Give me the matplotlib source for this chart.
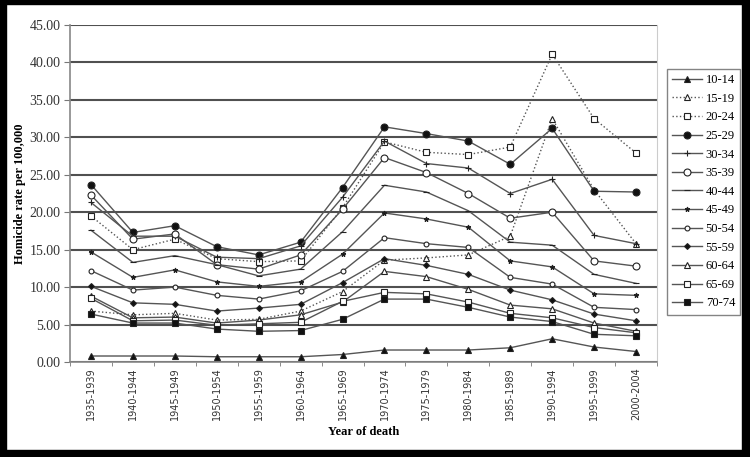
import numpy as np
import matplotlib
matplotlib.use('Agg')
import matplotlib.pyplot as plt
from matplotlib.patches import Rectangle

periods = ['1935-1939', '1940-1944', '1945-1949', '1950-1954', '1955-1959', '1960-1964', '1965-1969',
           '1970-1974', '1975-1979', '1980-1984', '1985-1989', '1990-1994', '1995-1999', '2000-2004']

r_10_14 = [0.8, 0.8, 0.8, 0.7, 0.7, 0.7, 1.0, 1.6, 1.6, 1.6, 1.9, 3.1, 2.0, 1.4]
r_15_19 = [6.8, 6.3, 6.5, 5.6, 5.7, 6.8, 9.4, 13.6, 13.9, 14.3, 16.8, 32.5, 23.0, 15.8]
r_20_24 = [19.5, 15.0, 16.4, 13.8, 13.4, 13.5, 20.6, 29.4, 28.0, 27.7, 28.7, 41.1, 32.5, 27.9]
r_25_29 = [23.7, 17.3, 18.2, 15.4, 14.3, 16.0, 23.3, 31.4, 30.5, 29.5, 26.4, 31.2, 22.8, 22.7]
r_30_34 = [21.3, 16.8, 16.8, 14.0, 13.8, 15.5, 22.0, 29.5, 26.5, 25.9, 22.5, 24.4, 16.9, 15.8]
r_35_39 = [22.3, 16.4, 17.1, 13.0, 12.4, 14.3, 20.4, 27.3, 25.3, 22.5, 19.2, 20.0, 13.5, 12.8]
r_40_44 = [17.6, 13.3, 14.2, 13.0, 11.5, 12.4, 17.4, 23.6, 22.7, 20.2, 16.0, 15.6, 11.7, 10.5]
r_45_49 = [14.7, 11.3, 12.3, 10.7, 10.1, 10.7, 14.4, 19.9, 19.1, 18.0, 13.5, 12.7, 9.1, 8.9]
r_50_54 = [12.2, 9.6, 10.0, 8.9, 8.4, 9.5, 12.1, 16.6, 15.8, 15.3, 11.3, 10.4, 7.3, 7.0]
r_55_59 = [10.1, 7.9, 7.7, 6.8, 7.2, 7.7, 10.6, 13.8, 12.9, 11.7, 9.6, 8.3, 6.4, 5.5]
r_60_64 = [8.8, 5.9, 6.0, 5.2, 5.6, 6.3, 8.0, 12.1, 11.4, 9.7, 7.6, 7.1, 5.2, 4.1]
r_65_69 = [8.5, 5.5, 5.6, 4.9, 5.1, 5.3, 8.1, 9.3, 9.1, 8.0, 6.5, 5.9, 4.6, 3.9]
r_70_74 = [6.4, 5.2, 5.2, 4.4, 4.1, 4.2, 5.7, 8.4, 8.4, 7.3, 6.0, 5.4, 3.7, 3.5]

labels = ['10-14', '15-19', '20-24', '25-29', '30-34', '35-39', '40-44',
          '45-49', '50-54', '55-59', '60-64', '65-69', '70-74']
series = [r_10_14, r_15_19, r_20_24, r_25_29, r_30_34, r_35_39, r_40_44,
          r_45_49, r_50_54, r_55_59, r_60_64, r_65_69, r_70_74]

# marker, size, filled, linestyle
styles = [('^', 4, True, '-'), ('^', 4.5, False, ':'), ('s', 4, False, ':'), ('o', 5, True, '-'),
          ('+', 4, True, '-'), ('o', 5, False, '-'), ('_', 4, True, '-'), ('*', 3.5, True, '-'),
          ('o', 3.5, False, '-'), ('D', 3, True, '-'), ('^', 4.5, False, '-'), ('s', 4, False, '-'),
          ('s', 4, True, '-')]

plt.rcParams['font.family'] = 'Liberation Serif'

fig = plt.figure(figsize=(7.5, 4.57), dpi=100)
ax = fig.add_axes([70/750, 95/457, 587/750, 337/457])

x = np.arange(len(periods))
for vals, lab, (mk, ms, filled, ls) in zip(series, labels, styles):
    ax.plot(x, vals, color='#555555', lw=1.0, ls=ls, marker=mk, markersize=ms,
            markerfacecolor='#111111' if filled else 'white',
            markeredgecolor='#222222', markeredgewidth=0.8, label=lab, zorder=3)

ax.set_xlim(-0.5, len(periods) - 0.5)
ax.set_ylim(0, 45)
ax.set_yticks(np.arange(0, 46, 5))
ax.set_yticklabels(['%.2f' % v for v in np.arange(0, 46, 5)], fontsize=10, color='#333333')
ax.set_xticks(x)
ax.set_xticklabels(periods, rotation=90, fontsize=7, family='DejaVu Sans', color='#333333')
ax.tick_params(axis='x', length=0, pad=4)
ax.set_xticks(np.arange(-0.5, len(periods), 1), minor=True)
ax.tick_params(axis='x', which='minor', length=3, color='#777777', direction='out')
ax.tick_params(axis='y', length=4, color='#777777', pad=3)
ax.yaxis.grid(True, color='#505050', lw=1.5)
ax.set_axisbelow(True)
for s in ['left', 'bottom']:
    ax.spines[s].set_color('#888888')
    ax.spines[s].set_linewidth(1.2)
ax.spines['top'].set_visible(False)
ax.spines['right'].set_color('#cccccc')

ax.set_ylabel('Homicide rate per 100,000', fontsize=9, fontweight='bold', labelpad=2)
ax.set_xlabel('Year of death', fontsize=9, fontweight='bold', labelpad=4)

leg = ax.legend(loc='upper left', bbox_to_anchor=(667/750, 1 - 69/457), bbox_transform=fig.transFigure,
                fontsize=9, frameon=True, fancybox=False, handlelength=2.4, labelspacing=0.53,
                borderpad=0.4, handletextpad=0.3, borderaxespad=0)
leg.get_frame().set_edgecolor('#666666')
leg.get_frame().set_linewidth(1.0)

# black frame around the whole picture
for (x0, y0, w, h) in [(0, 0, 6, 457), (742, 0, 8, 457), (0, 0, 750, 7), (0, 453, 750, 4)]:
    fig.patches.append(Rectangle((x0/750, y0/457), w/750, h/457, transform=fig.transFigure,
                                 color='black', zorder=10))

fig.savefig('out.png', dpi=100)
